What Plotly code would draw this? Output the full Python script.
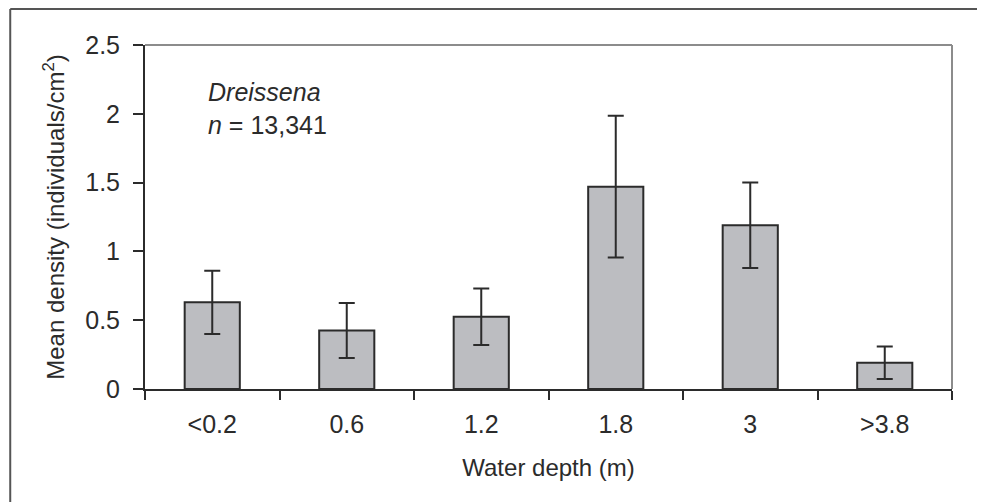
import plotly.graph_objects as go

categories = ["<0.2", "0.6", "1.2", "1.8", "3", ">3.8"]
mean_density = [0.63, 0.425, 0.525, 1.47, 1.19, 0.19]
error = [0.23, 0.2, 0.205, 0.515, 0.31, 0.118]
y_ticks = [0, 0.5, 1, 1.5, 2, 2.5]
y_tick_labels = ["0", "0.5", "1", "1.5", "2", "2.5"]

FONT = "Liberation Sans, Arial, sans-serif"
TXT = "#2b2b2b"

fig = go.Figure()
fig.add_trace(go.Bar(
    x=categories, y=mean_density,
    width=0.41,
    marker=dict(color="#bcbdc1", line=dict(color="#2b2b2b", width=2)),
    error_y=dict(type="data", array=error, visible=True,
                 color="#2b2b2b", thickness=2, width=8),
))

fig.update_layout(
    width=977, height=494,
    margin=dict(l=137, r=33, t=37, b=113),
    paper_bgcolor="white", plot_bgcolor="white",
    showlegend=False,
    font=dict(family=FONT, color=TXT),
    xaxis=dict(
        type="category", tickson="boundaries",
        ticks="outside", ticklen=9, tickwidth=2, tickcolor="#2b2b2b",
        showline=True, linecolor="#2b2b2b", linewidth=2,
        showgrid=False, tickfont=dict(size=25, color=TXT),
        ticklabelstandoff=12,
        title=dict(text="Water depth (m)", font=dict(size=24, color=TXT), standoff=22),
    ),
    yaxis=dict(
        range=[0, 2.5], tickvals=y_ticks, ticktext=y_tick_labels,
        ticks="outside", ticklen=10, tickwidth=2, tickcolor="#2b2b2b",
        showline=True, linecolor="#2b2b2b", linewidth=2,
        showgrid=False, zeroline=False, tickfont=dict(size=25, color=TXT),
        ticklabelstandoff=8,
        title=dict(text="Mean density (individuals/cm<sup>2</sup>)",
                   font=dict(size=24, color=TXT), standoff=14),
    ),
    shapes=[
        dict(type="line", xref="paper", yref="paper", x0=0, x1=1, y0=1, y1=1,
             line=dict(color="#8c8c8c", width=2)),
        dict(type="line", xref="paper", yref="paper", x0=1, x1=1, y0=0, y1=1,
             line=dict(color="#8c8c8c", width=2)),
        dict(type="line", xref="paper", yref="paper", x0=-0.167, x1=1.05, y0=1.105, y1=1.105,
             line=dict(color="#555555", width=2)),
        dict(type="line", xref="paper", yref="paper", x0=-0.167, x1=-0.167, y0=-0.35, y1=1.105,
             line=dict(color="#555555", width=2)),
    ],
    annotations=[
        dict(text="<i>Dreissena</i>", xref="paper", yref="paper", x=0.075, y=0.862,
             xanchor="left", yanchor="middle", showarrow=False,
             font=dict(size=25, color=TXT)),
        dict(text="<i>n</i> = 13,341", xref="paper", yref="paper", x=0.075, y=0.766,
             xanchor="left", yanchor="middle", showarrow=False,
             font=dict(size=25, color=TXT)),
    ],
)

fig.write_html("out.html")
